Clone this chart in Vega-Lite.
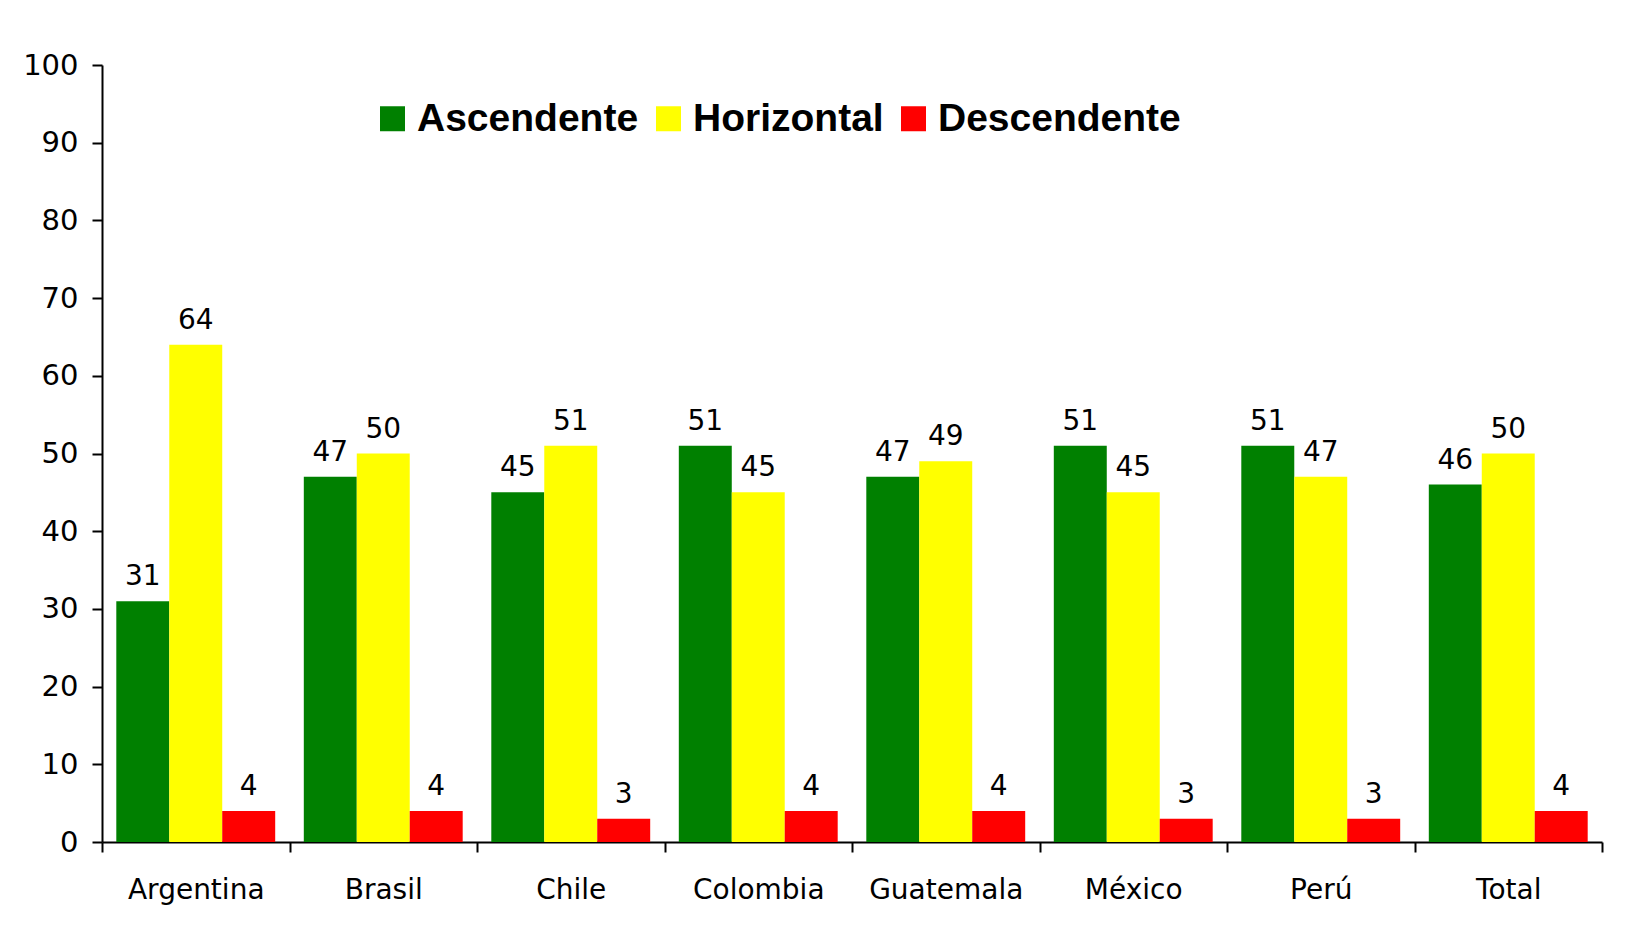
{
  "$schema": "https://vega.github.io/schema/vega-lite/v6.json",
  "width": 1500,
  "height": 777,
  "autosize": {"type": "none"},
  "padding": {"left": 102, "top": 65, "right": 34, "bottom": 96},
  "background": "white",
  "config": {
    "view": {"stroke": null},
    "axis": {"labelFont": "DejaVu Sans", "labelFontSize": 28, "labelColor": "black", "domainColor": "black", "tickColor": "black", "domainWidth": 2, "tickWidth": 2, "tickSize": 10, "grid": false, "title": null}
  },
  "data": {
    "values": [
      {"pais": "Argentina", "serie": "Ascendente", "valor": 31},
      {"pais": "Argentina", "serie": "Horizontal", "valor": 64},
      {"pais": "Argentina", "serie": "Descendente", "valor": 4},
      {"pais": "Brasil", "serie": "Ascendente", "valor": 47},
      {"pais": "Brasil", "serie": "Horizontal", "valor": 50},
      {"pais": "Brasil", "serie": "Descendente", "valor": 4},
      {"pais": "Chile", "serie": "Ascendente", "valor": 45},
      {"pais": "Chile", "serie": "Horizontal", "valor": 51},
      {"pais": "Chile", "serie": "Descendente", "valor": 3},
      {"pais": "Colombia", "serie": "Ascendente", "valor": 51},
      {"pais": "Colombia", "serie": "Horizontal", "valor": 45},
      {"pais": "Colombia", "serie": "Descendente", "valor": 4},
      {"pais": "Guatemala", "serie": "Ascendente", "valor": 47},
      {"pais": "Guatemala", "serie": "Horizontal", "valor": 49},
      {"pais": "Guatemala", "serie": "Descendente", "valor": 4},
      {"pais": "México", "serie": "Ascendente", "valor": 51},
      {"pais": "México", "serie": "Horizontal", "valor": 45},
      {"pais": "México", "serie": "Descendente", "valor": 3},
      {"pais": "Perú", "serie": "Ascendente", "valor": 51},
      {"pais": "Perú", "serie": "Horizontal", "valor": 47},
      {"pais": "Perú", "serie": "Descendente", "valor": 3},
      {"pais": "Total", "serie": "Ascendente", "valor": 46},
      {"pais": "Total", "serie": "Horizontal", "valor": 50},
      {"pais": "Total", "serie": "Descendente", "valor": 4}
    ]
  },
  "encoding": {
    "x": {
      "field": "pais", "type": "nominal", "sort": null,
      "scale": {"paddingInner": 0, "paddingOuter": 0},
      "axis": {"labelAngle": 0, "tickBand": "extent", "labelPadding": 24}
    },
    "xOffset": {
      "field": "serie", "type": "nominal",
      "sort": ["Ascendente", "Horizontal", "Descendente"],
      "scale": {"paddingInner": 0, "paddingOuter": 0.27}
    },
    "y": {
      "field": "valor", "type": "quantitative",
      "scale": {"domain": [0, 100], "nice": false},
      "axis": {"values": [0, 10, 20, 30, 40, 50, 60, 70, 80, 90, 100], "labelPadding": 14, "labelFontSize": 29}
    }
  },
  "layer": [
    {
      "mark": {"type": "bar"},
      "encoding": {
        "color": {
          "field": "serie", "type": "nominal",
          "scale": {"domain": ["Ascendente", "Horizontal", "Descendente"], "range": ["#008000", "#FFFF00", "#FF0000"]},
          "legend": {
            "title": null, "orient": "none", "direction": "horizontal",
            "legendX": 271, "legendY": 34,
            "symbolType": "square", "symbolSize": 625, "symbolStrokeWidth": 0, "symbolOpacity": 1,
            "labelFont": "Liberation Sans", "labelFontWeight": "bold", "labelFontSize": 39, "labelColor": "black",
            "labelOffset": 5, "columnPadding": 10, "labelLimit": 400
          }
        }
      }
    },
    {
      "mark": {"type": "text", "baseline": "alphabetic", "dy": -16, "font": "DejaVu Sans", "fontSize": 28, "color": "black"},
      "encoding": {"text": {"field": "valor", "type": "quantitative"}}
    }
  ]
}
